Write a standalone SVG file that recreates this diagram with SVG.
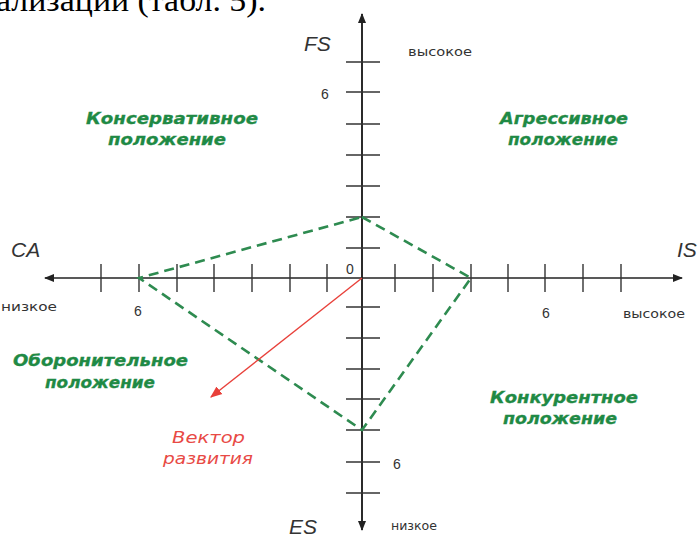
<svg xmlns="http://www.w3.org/2000/svg" width="697" height="537" viewBox="0 0 697 537">
<style>
.ax{stroke:#222;stroke-width:1.6;fill:none}
.tk{stroke:#333;stroke-width:1.4}
.lbl{font-family:"DejaVu Sans","Liberation Sans",Arial,sans-serif;fill:#333}
.ax-name{font-family:"Liberation Sans",Arial,sans-serif;font-style:italic;font-size:21px;fill:#333}
.small{font-size:12px}
.num{font-family:"Liberation Sans",Arial,sans-serif;font-size:14px}
.zone{font-family:"DejaVu Sans","Liberation Sans",sans-serif;font-style:italic;font-weight:bold;font-size:15.5px;fill:#1f8a45;stroke:#1f8a45;stroke-width:0.3}
.vec{font-family:"DejaVu Sans","Liberation Sans",sans-serif;font-style:italic;font-size:15.5px;fill:#e84a45}
.dash{stroke:#2e8b50;stroke-width:2.6;stroke-dasharray:10 6;fill:none}
</style>
<defs>
<marker id="ah" viewBox="0 0 10 10" refX="9" refY="5" markerWidth="10" markerHeight="10" markerUnits="userSpaceOnUse" orient="auto">
<path d="M0,1 L10,5 L0,9 Z" fill="#222"/>
</marker>
<marker id="rh" viewBox="0 0 10 10" refX="9" refY="5" markerWidth="12" markerHeight="12" markerUnits="userSpaceOnUse" orient="auto">
<path d="M0,1 L10,5 L0,9 Z" fill="#e8403a"/>
</marker>
</defs>
<text x="-4" y="11" font-family="Liberation Serif,'Times New Roman',serif" font-size="31" fill="#000" textLength="270" lengthAdjust="spacingAndGlyphs">ализации (табл. 5).</text>
<g id="axes">
<line class="ax" x1="362" y1="530" x2="362" y2="14" marker-end="url(#ah)"/>
<line class="ax" x1="362" y1="14" x2="362" y2="530" marker-end="url(#ah)"/>
<line class="ax" x1="362" y1="278" x2="682" y2="278" marker-end="url(#ah)"/>
<line class="ax" x1="362" y1="278" x2="45" y2="278" marker-end="url(#ah)"/>
<g id="ticks-v">
<line class="tk" x1="346" y1="62" x2="380" y2="62"/>
<line class="tk" x1="346" y1="92" x2="380" y2="92"/>
<line class="tk" x1="346" y1="124" x2="380" y2="124"/>
<line class="tk" x1="346" y1="155" x2="380" y2="155"/>
<line class="tk" x1="346" y1="186" x2="380" y2="186"/>
<line class="tk" x1="346" y1="217" x2="380" y2="217"/>
<line class="tk" x1="346" y1="248" x2="380" y2="248"/>
<line class="tk" x1="346" y1="307" x2="380" y2="307"/>
<line class="tk" x1="346" y1="338" x2="380" y2="338"/>
<line class="tk" x1="346" y1="369" x2="380" y2="369"/>
<line class="tk" x1="346" y1="399" x2="380" y2="399"/>
<line class="tk" x1="346" y1="430" x2="380" y2="430"/>
<line class="tk" x1="346" y1="462" x2="380" y2="462"/>
<line class="tk" x1="346" y1="493" x2="380" y2="493"/>
</g>
<g id="ticks-h">
<line class="tk" x1="101" y1="264" x2="101" y2="292"/>
<line class="tk" x1="139" y1="264" x2="139" y2="292"/>
<line class="tk" x1="177" y1="264" x2="177" y2="292"/>
<line class="tk" x1="214" y1="264" x2="214" y2="292"/>
<line class="tk" x1="252" y1="264" x2="252" y2="292"/>
<line class="tk" x1="290" y1="264" x2="290" y2="292"/>
<line class="tk" x1="327" y1="264" x2="327" y2="292"/>
<line class="tk" x1="395" y1="264" x2="395" y2="292"/>
<line class="tk" x1="433" y1="264" x2="433" y2="292"/>
<line class="tk" x1="471" y1="264" x2="471" y2="292"/>
<line class="tk" x1="508" y1="264" x2="508" y2="292"/>
<line class="tk" x1="545" y1="264" x2="545" y2="292"/>
<line class="tk" x1="583" y1="264" x2="583" y2="292"/>
<line class="tk" x1="621" y1="264" x2="621" y2="292"/>
</g>
</g>
<g id="axis-labels">
<text class="ax-name" x="304" y="51">FS</text>
<text class="ax-name" x="11" y="257">CA</text>
<text class="ax-name" x="677" y="257">IS</text>
<text class="ax-name" x="289" y="534">ES</text>
<text class="lbl small" x="408" y="56" textLength="64" lengthAdjust="spacingAndGlyphs">высокое</text>
<text class="lbl small" x="623" y="318" textLength="62" lengthAdjust="spacingAndGlyphs">высокое</text>
<text class="lbl small" x="1" y="311" textLength="56" lengthAdjust="spacingAndGlyphs">низкое</text>
<text class="lbl small" x="391" y="530" textLength="46" lengthAdjust="spacingAndGlyphs">низкое</text>
<text class="lbl num" x="321" y="99">6</text>
<text class="lbl num" x="134" y="316">6</text>
<text class="lbl num" x="542" y="318">6</text>
<text class="lbl num" x="393" y="469">6</text>
<text class="lbl num" x="346" y="274">0</text>
</g>
<g id="connectors">
<polygon class="dash" points="362,217 471,278 362,430 139,278"/>
<line x1="362" y1="278" x2="211" y2="397" stroke="#e8403a" stroke-width="1.4" marker-end="url(#rh)"/>
</g>
<g id="zone-conservative">
<text class="zone" x="86" y="124" textLength="172" lengthAdjust="spacingAndGlyphs">Консервативное</text>
<text class="zone" x="108" y="145" textLength="118" lengthAdjust="spacingAndGlyphs">положение</text>
</g>
<g id="zone-aggressive">
<text class="zone" x="500" y="124" textLength="128" lengthAdjust="spacingAndGlyphs">Агрессивное</text>
<text class="zone" x="508" y="145" textLength="110" lengthAdjust="spacingAndGlyphs">положение</text>
</g>
<g id="zone-defensive">
<text class="zone" x="13" y="366" textLength="175" lengthAdjust="spacingAndGlyphs">Оборонительное</text>
<text class="zone" x="45" y="388" textLength="110" lengthAdjust="spacingAndGlyphs">положение</text>
</g>
<g id="zone-competitive">
<text class="zone" x="490" y="403" textLength="148" lengthAdjust="spacingAndGlyphs">Конкурентное</text>
<text class="zone" x="503" y="424" textLength="114" lengthAdjust="spacingAndGlyphs">положение</text>
</g>
<g id="vector-label">
<text class="vec" x="172" y="443" textLength="73" lengthAdjust="spacingAndGlyphs">Вектор</text>
<text class="vec" x="163" y="464" textLength="90" lengthAdjust="spacingAndGlyphs">развития</text>
</g>
</svg>
